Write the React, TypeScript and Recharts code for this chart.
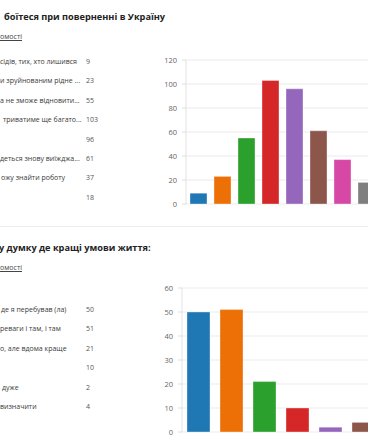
import React from "react";
import { BarChart, Bar, XAxis, YAxis, CartesianGrid, Cell } from "recharts";

const title1 = "боїтеся при поверненні в Україну";
const title2 = "у думку де кращі умови життя:";
const detailsText = "омості";

const concernLabels = [
  "сідів, тих, хто лишився",
  "и зруйнованим рідне ...",
  "а не зможе відновити...",
  "триватиме ще багато...",
  "",
  "деться знову виїжджа...",
  "ожу знайти роботу",
  "",
];
const concernLabelX = [0, 0, 0, 3, 0, 0, 1, 0];
const concernValues = [9, 23, 55, 103, 96, 61, 37, 18];
const concernTicks = [0, 20, 40, 60, 80, 100, 120];

const conditionLabels = [
  "де я перебував (ла)",
  "реваги і там, і там",
  "о, але вдома краще",
  "",
  "дуже",
  "визначити",
];
const conditionLabelX = [1, 0, 0, 0, 2, 0];
const conditionValues = [50, 51, 21, 10, 2, 4];
const conditionTicks = [0, 10, 20, 30, 40, 50, 60];

const palette = [
  "#1f77b4",
  "#ec7005",
  "#2ca02c",
  "#d62728",
  "#9467bd",
  "#8c564b",
  "#d647a6",
  "#7f7f7f",
];

const FONT = "'Open Sans', 'Noto Sans', sans-serif";

const concernData = concernValues.map((v, i) => ({ name: "c" + i, value: v }));
const conditionData = conditionValues.map((v, i) => ({ name: "d" + i, value: v }));

function List({
  labels,
  xs,
  values,
  top,
}: {
  labels: string[];
  xs: number[];
  values: number[];
  top: number;
}) {
  const step = 19.4;
  return (
    <>
      {labels.map((l, i) => (
        <React.Fragment key={i}>
          <div
            style={{
              position: "absolute",
              left: xs[i],
              top: top + i * step - 6,
              height: 12,
              lineHeight: "12px",
              fontSize: 7.0,
              color: "#3a3a3a",
              whiteSpace: "nowrap",
            }}
          >
            {l}
          </div>
          <div
            style={{
              position: "absolute",
              left: 86,
              top: top + i * step - 6,
              height: 12,
              lineHeight: "12px",
              fontSize: 7.0,
              color: "#555",
              whiteSpace: "nowrap",
            }}
          >
            {values[i]}
          </div>
        </React.Fragment>
      ))}
    </>
  );
}

const tickStyle = { fontSize: 7.5, fill: "#666", fontFamily: FONT };

export default function App() {
  return (
    <div
      style={{
        position: "absolute",
        left: 0,
        top: 0,
        width: 368,
        height: 445,
        overflow: "hidden",
        background: "#fff",
        fontFamily: FONT,
      }}
    >
      <div
        style={{
          position: "absolute",
          left: 4,
          top: 10,
          fontSize: 9.2,
          fontWeight: 700,
          color: "#222",
          whiteSpace: "nowrap",
          lineHeight: "14px",
        }}
      >
        {title1}
      </div>
      <div
        style={{
          position: "absolute",
          left: 0,
          top: 31,
          fontSize: 7.0,
          color: "#444",
          textDecoration: "underline",
          lineHeight: "12px",
        }}
      >
        {detailsText}
      </div>
      <List labels={concernLabels} xs={concernLabelX} values={concernValues} top={62} />
      <div style={{ position: "absolute", left: 0, top: 40 }}>
        <BarChart
          width={400}
          height={175}
          data={concernData}
          margin={{ top: 20, right: 22, bottom: 11, left: 0 }}
        >
          <CartesianGrid vertical={false} stroke="#ebebeb" />
          <XAxis
            dataKey="name"
            tick={false}
            tickLine={false}
            height={0}
            axisLine={{ stroke: "#e3e3e3" }}
          />
          <YAxis
            width={186}
            domain={[0, 120]}
            ticks={concernTicks}
            tick={tickStyle}
            tickSize={4}
            tickMargin={5}
            tickLine={{ stroke: "#ddd" }}
            axisLine={{ stroke: "#e3e3e3" }}
            interval={0}
          />
          <Bar dataKey="value" barSize={17} isAnimationActive={false} stroke="rgba(255,255,255,0.35)" strokeWidth={1}>
            {concernData.map((_, i) => (
              <Cell key={i} fill={palette[i]} />
            ))}
          </Bar>
        </BarChart>
      </div>

      <div
        style={{
          position: "absolute",
          left: 0,
          top: 226,
          width: 368,
          height: 1,
          background: "#ededed",
        }}
      />

      <div
        style={{
          position: "absolute",
          left: -1,
          top: 241,
          fontSize: 9.2,
          fontWeight: 700,
          color: "#222",
          whiteSpace: "nowrap",
          lineHeight: "14px",
        }}
      >
        {title2}
      </div>
      <div
        style={{
          position: "absolute",
          left: 0,
          top: 262,
          fontSize: 7.0,
          color: "#444",
          textDecoration: "underline",
          lineHeight: "12px",
        }}
      >
        {detailsText}
      </div>
      <List labels={conditionLabels} xs={conditionLabelX} values={conditionValues} top={310} />
      <div style={{ position: "absolute", left: 0, top: 270 }}>
        <BarChart
          width={400}
          height={170}
          data={conditionData}
          margin={{ top: 18, right: 20, bottom: 8, left: 0 }}
        >
          <CartesianGrid vertical={false} stroke="#ebebeb" />
          <XAxis
            dataKey="name"
            tick={false}
            tickLine={false}
            height={0}
            axisLine={{ stroke: "#e3e3e3" }}
          />
          <YAxis
            width={182}
            domain={[0, 60]}
            ticks={conditionTicks}
            tick={tickStyle}
            tickSize={4}
            tickMargin={5}
            tickLine={{ stroke: "#ddd" }}
            axisLine={{ stroke: "#e3e3e3" }}
            interval={0}
          />
          <Bar dataKey="value" barSize={23} isAnimationActive={false} stroke="rgba(255,255,255,0.35)" strokeWidth={1}>
            {conditionData.map((_, i) => (
              <Cell key={i} fill={palette[i]} />
            ))}
          </Bar>
        </BarChart>
      </div>
    </div>
  );
}
